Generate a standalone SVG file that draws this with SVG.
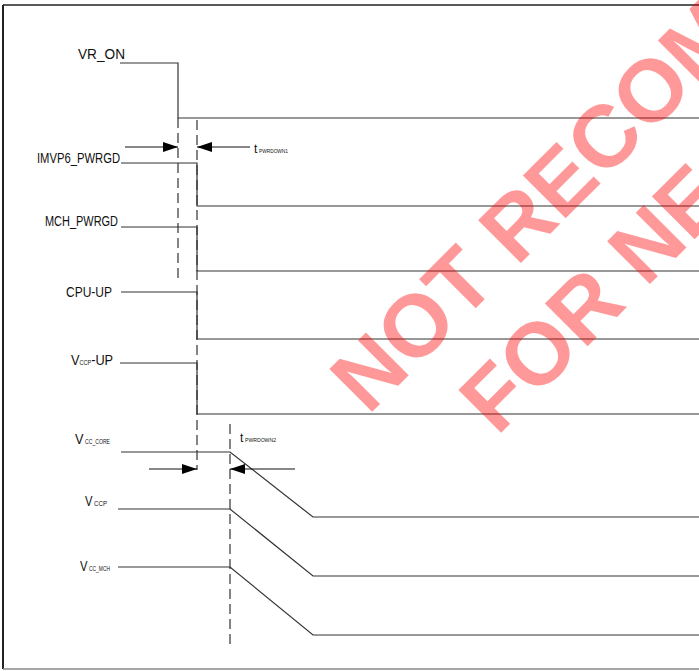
<svg xmlns="http://www.w3.org/2000/svg" width="699" height="671" viewBox="0 0 699 671">
<style>
.lbl{font-family:"Liberation Sans",Arial,sans-serif;font-size:15px;fill:#111}
.sub{font-family:"Liberation Sans",Arial,sans-serif;font-size:7px;fill:#111}
.t{font-family:"Liberation Sans",Arial,sans-serif;font-size:12px;fill:#111}
.tsub{font-family:"Liberation Sans",Arial,sans-serif;font-size:6px;fill:#111}
.wave{fill:none;stroke:#333;stroke-width:1.2}
.dash{fill:none;stroke:#333;stroke-width:1.2;stroke-dasharray:10 5}
.arr{fill:none;stroke:#111;stroke-width:1.2;marker-end:url(#ah)}
.wm{font-family:"Liberation Sans",Arial,sans-serif;font-weight:bold;font-size:88px;fill:#ff0000;fill-opacity:0.4}
</style>
<defs>
<marker id="ah" markerUnits="userSpaceOnUse" markerWidth="16" markerHeight="11" refX="15" refY="5" orient="auto">
<path d="M0,0 L15,5 L0,10 z" fill="#000"/>
</marker>
</defs>
<rect width="699" height="671" fill="#fff"/>
<g id="frame" fill="none">
<path d="M3,5 V669" stroke="#222" stroke-width="2"/>
<path d="M3,5 H699" stroke="#222" stroke-width="1.5"/>
<path d="M3,669 H699" stroke="#888" stroke-width="1.5"/>
</g>
<g id="sig-vr_on">
<text class="lbl" x="78" y="59" textLength="47" lengthAdjust="spacingAndGlyphs">VR_ON</text>
<path class="wave" d="M120,63 H178 V118 H699"/>
</g>
<g id="sig-imvp6_pwrgd">
<text class="lbl" x="37" y="163" textLength="83" lengthAdjust="spacingAndGlyphs">IMVP6_PWRGD</text>
<path class="wave" d="M121,163 H197 V206 H699"/>
</g>
<g id="sig-mch_pwrgd">
<text class="lbl" x="45" y="226" textLength="73" lengthAdjust="spacingAndGlyphs">MCH_PWRGD</text>
<path class="wave" d="M121,227 H197 V271 H699"/>
</g>
<g id="sig-cpu_up">
<text class="lbl" x="66" y="297" textLength="46" lengthAdjust="spacingAndGlyphs">CPU-UP</text>
<path class="wave" d="M121,292 H197 V339 H699"/>
</g>
<g id="sig-vccp_up">
<text class="lbl" transform="translate(71,365) scale(0.85,1)">V<tspan style="font-size:6.5px">CCP</tspan>-UP</text>
<path class="wave" d="M120,363 H197 V414 H699"/>
</g>
<g id="sig-vcc_core">
<text class="lbl" x="75" y="444" textLength="8.5" lengthAdjust="spacingAndGlyphs">V</text>
<text class="sub" x="85" y="444" textLength="25" lengthAdjust="spacingAndGlyphs">CC_CORE</text>
<path class="wave" d="M121,452 H230 L313,517 H699"/>
</g>
<g id="sig-vccp">
<text class="lbl" x="85" y="506" textLength="7.5" lengthAdjust="spacingAndGlyphs">V</text>
<text class="sub" x="94" y="506" textLength="13" lengthAdjust="spacingAndGlyphs">CCP</text>
<path class="wave" d="M118,509 H230 L313,576 H699"/>
</g>
<g id="sig-vcc_mch">
<text class="lbl" x="80" y="571" textLength="7.5" lengthAdjust="spacingAndGlyphs">V</text>
<text class="sub" x="89" y="571" textLength="21" lengthAdjust="spacingAndGlyphs">CC_MCH</text>
<path class="wave" d="M118,567 H230 L313,635 H699"/>
</g>
<g id="connectors">
<path class="dash" d="M178,118 V278"/>
<path class="dash" d="M197,120 V470"/>
<path class="dash" d="M230,424 V648"/>
<path class="arr" d="M125,147 H178"/>
<path class="arr" d="M250,147 H197"/>
<path class="arr" d="M149,469 H197"/>
<path class="arr" d="M295,469 H230"/>
</g>
<g id="timing-labels">
<text class="t" x="254" y="153">t</text>
<text class="tsub" x="259" y="153" textLength="29" lengthAdjust="spacingAndGlyphs">PWRDOWN1</text>
<text class="t" x="240" y="442">t</text>
<text class="tsub" x="245" y="442" textLength="31" lengthAdjust="spacingAndGlyphs">PWRDOWN2</text>
</g>
<g id="watermark">
<text class="wm" transform="translate(368,416) rotate(-45)">NOT RECOM</text>
<text class="wm" transform="translate(497,437) rotate(-45)">FOR NE</text>
</g>
</svg>
